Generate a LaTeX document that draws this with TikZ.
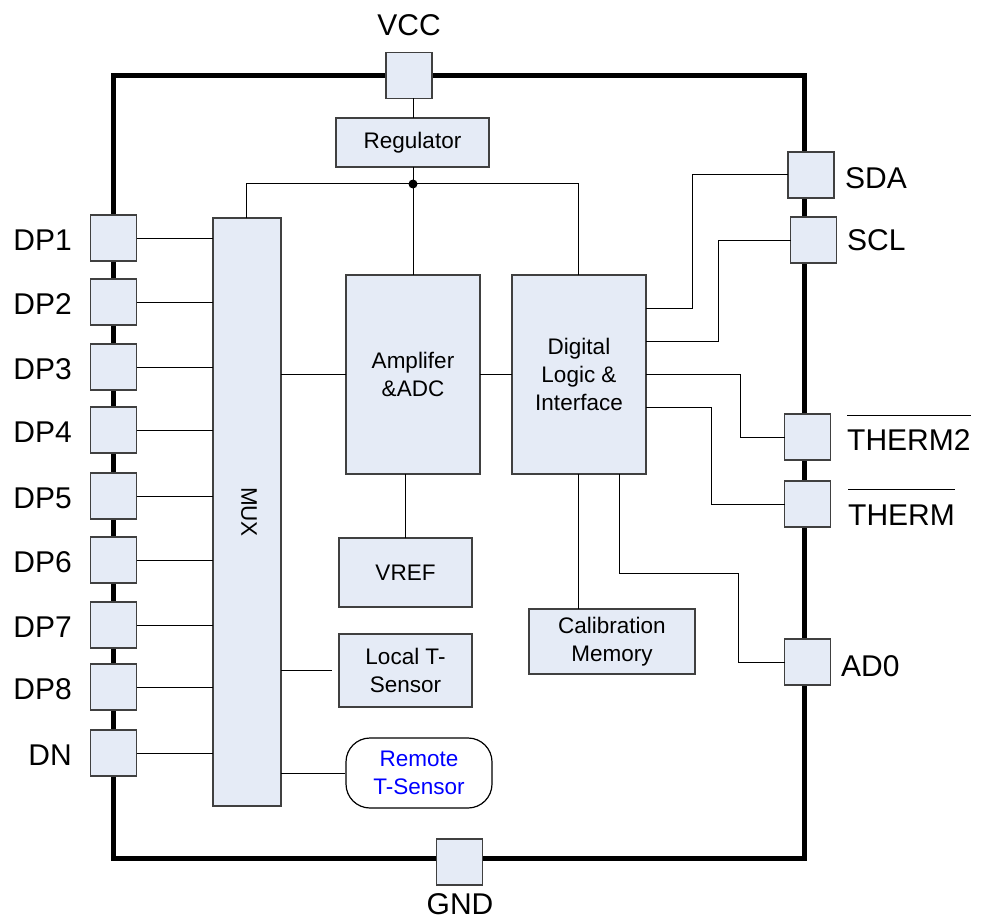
\documentclass[tikz,border=0pt]{standalone}
\usepackage{fontspec}
\setmainfont{Liberation Sans}
\usetikzlibrary{calc}
\definecolor{blkfill}{HTML}{E5EBF6}
\definecolor{blkdraw}{HTML}{404040}
\definecolor{remoteblue}{HTML}{0000FF}
\begin{document}
\begin{tikzpicture}[x=1pt,y=-1pt,
  blk/.style={draw=blkdraw,fill=blkfill,line width=1.3pt,inner sep=2pt,outer sep=0pt,align=center,
    font=\fontsize{22.5}{28}\selectfont},
  pinbox/.style={draw=blkdraw,fill=blkfill,line width=1.3pt,minimum width=46pt,minimum height=46pt,inner sep=0pt,outer sep=0pt},
  pinlbl/.style={inner sep=0pt,font=\fontsize{30}{34}\selectfont},
  wire/.style={line width=1pt,black},
  chip/.style={line width=5pt,black}]
\useasboundingbox (0,0) rectangle (983,923);

% outer package outline
\draw[chip] (113.5,75.5) rectangle (804.5,858);

% pins
\node[pinbox] (vcc) at (409,75.5) {};
\node[pinbox] (gnd) at (459.5,862) {};
\node[pinbox] (dp1) at (113.5,238) {};
\node[pinbox] (dp2) at (113.5,302) {};
\node[pinbox] (dp3) at (113.5,367) {};
\node[pinbox] (dp4) at (113.5,430) {};
\node[pinbox] (dp5) at (113.5,496) {};
\node[pinbox] (dp6) at (113.5,560) {};
\node[pinbox] (dp7) at (113.5,625) {};
\node[pinbox] (dp8) at (113.5,687) {};
\node[pinbox] (dn)  at (113.5,753) {};
\node[pinbox] (sda) at (811,175) {};
\node[pinbox] (scl) at (813.5,240) {};
\node[pinbox] (th2) at (807.5,437) {};
\node[pinbox] (th)  at (807.5,504) {};
\node[pinbox] (ad0) at (807.5,662) {};

% pin labels
\node[pinlbl] (vccl) at (409,25) {VCC};
\node[pinlbl] (gndl) at (460,904) {GND};
\node[pinlbl,anchor=east] (dp1l) at (72,240) {DP1};
\node[pinlbl,anchor=east] (dp2l) at (72,304) {DP2};
\node[pinlbl,anchor=east] (dp3l) at (72,369) {DP3};
\node[pinlbl,anchor=east] (dp4l) at (72,432) {DP4};
\node[pinlbl,anchor=east] (dp5l) at (72,498) {DP5};
\node[pinlbl,anchor=east] (dp6l) at (72,562) {DP6};
\node[pinlbl,anchor=east] (dp7l) at (72,627) {DP7};
\node[pinlbl,anchor=east] (dp8l) at (72,689) {DP8};
\node[pinlbl,anchor=east] (dnl)  at (72,755) {DN};
\node[pinlbl,anchor=west] (sdal) at (845,178) {SDA};
\node[pinlbl,anchor=west] (scll) at (847,240) {SCL};
\node[pinlbl,anchor=west] (th2l) at (847,440) {THERM2};
\node[pinlbl,anchor=west] (thl)  at (848,515) {THERM};
\node[pinlbl,anchor=west] (ad0l) at (841,666) {AD0};
\draw[line width=1pt] ([yshift=14pt]th2l.north west) -- ([yshift=14pt]th2l.north east);
\draw[line width=1pt] ([yshift=15pt]thl.north west) -- ([yshift=15pt]thl.north east);

% blocks
\node[blk,minimum width=153pt,minimum height=49pt] (reg) at (412.5,142.5) {Regulator};
\node[blk,minimum width=68pt,minimum height=588pt] (mux) at (247,512) {};
\node[font=\fontsize{22.5}{28}\selectfont,rotate=-90,inner sep=0pt] (muxl) at (249,512) {MUX};
\node[blk,minimum width=134pt,minimum height=199pt] (amp) at (413,374.5) {Amplifer\\\&ADC};
\node[blk,minimum width=134pt,minimum height=199pt] (dig) at (579,374.5) {Digital\\Logic \&\\Interface};
\node[blk,minimum width=133pt,minimum height=69pt] (vref) at (405.5,572.5) {VREF};
\node[blk,minimum width=133pt,minimum height=73pt] (loc) at (405.5,670.5) {Local T-\\Sensor};
\node[blk,minimum width=166pt,minimum height=65pt] (cal) at (612,641.5) {Calibration\\Memory};
\node[draw=black,fill=white,line width=1.2pt,rounded corners=24pt,minimum width=146pt,minimum height=70pt,
  align=center,text=remoteblue,font=\fontsize{22.5}{28}\selectfont,inner sep=2pt] (rem) at (419,773) {Remote\\T-Sensor};

% junction coordinates
\coordinate (j)  at (413,184);
\coordinate (jl) at (246,184);
\coordinate (jr) at (578,184);
\coordinate (c618) at (619,0);
\coordinate (k2) at (740,0);
\coordinate (t1) at (711,407);
\coordinate (s1) at (692,308);
\coordinate (s2) at (718,341);
\coordinate (a1) at (738,573);

% connectors
\draw[wire] (reg.north -| j) -- (j |- vcc.south);
\draw[wire] (reg.south -| j) -- (j);
\draw[wire] (mux.north -| jl) -- (jl) -- (jr) -- (jr |- dig.north);
\draw[wire] (j) -- (j |- amp.north);
\fill (j) circle (4.5pt);
\foreach \p in {dp1,dp2,dp3,dp4,dp5,dp6,dp7,dp8,dn}
  \draw[wire] (\p.east) -- (\p.east -| mux.west);
\draw[wire] (mux.east |- amp.west) -- (amp.west);
\draw[wire] (amp.east) -- (dig.west);
\draw[wire] (vref.north) -- (vref.north |- amp.south);
\draw[wire] (mux.east |- loc.west) -- ([xshift=-7pt]loc.west);
\draw[wire] (mux.east |- rem.west) -- (rem.west);
\draw[wire] (dig.south -| jr) -- (cal.north -| jr);
\draw[wire] (dig.south -| c618) |- (a1) |- (ad0.west);
\draw[wire] (dig.east) -- (dig.east -| k2) |- (th2.west);
\draw[wire] (dig.east |- t1) -- (t1) |- (th.west);
\draw[wire] (dig.east |- s1) -- (s1) |- (sda.west);
\draw[wire] (dig.east |- s2) -- (s2) |- (scl.west);
\end{tikzpicture}
\end{document}
